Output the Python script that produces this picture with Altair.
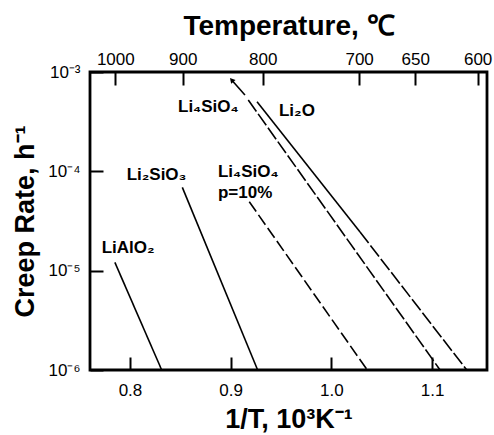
import altair as alt
import pandas as pd

# ---- data ----
liaio2_x = [0.785, 0.8315]
liaio2_y = [1.21e-5, 1e-6]
li2sio3_x = [0.852, 0.9268]
li2sio3_y = [6.9e-5, 1e-6]
li4sio4_p10_x = [0.9185, 1.0357]
li4sio4_p10_y = [4.94e-5, 1e-6]
li4sio4_x = [0.9175, 1.108]
li4sio4_y = [5.22e-4, 1e-6]
li2o_solid_x = [0.9262, 1.0285]
li2o_solid_y = [5.02e-4, 2.45e-5]
li2o_dash_x = [1.0285, 1.1345]
li2o_dash_y = [2.45e-5, 1e-6]
arrow_x = [0.9142, 0.901]
arrow_y = [5.87e-4, 8.31e-4]

label_text = ["Li₄SiO₄", "Li₂O", "Li₂SiO₃", "Li₄SiO₄", "p=10%", "LiAlO₂"]
label_x = [0.8477, 0.948, 0.7967, 0.8874, 0.8874, 0.7719]
label_y = [4.48e-4, 4.07e-4, 9.18e-5, 9.9e-5, 6.05e-5, 1.69e-5]

x_ticks = [0.8, 0.9, 1.0, 1.1]
y_ticks = [1e-3, 1e-4, 1e-5, 1e-6]
temps_c = [1000, 900, 800, 700, 650, 600]
temp_pos = [1000.0 / (t + 273.15) for t in temps_c]

W, H = 397, 298
FONT = "Liberation Sans"
X0, X1 = 0.7603, 1.1546
Y0, Y1 = 1e-6, 1e-3
TL = 13  # inward tick length in px

xs = alt.Scale(domain=[X0, X1], nice=False, zero=False)
ys = alt.Scale(type="log", domain=[Y0, Y1], nice=False)


def frame(series):
    rows = []
    for name, xv, yv in series:
        for i, (a, b) in enumerate(zip(xv, yv)):
            rows.append({"series": name, "x": a, "y": b, "o": i})
    return pd.DataFrame(rows)


solid_df = frame([("LiAlO2", liaio2_x, liaio2_y), ("Li2SiO3", li2sio3_x, li2sio3_y),
                  ("Li2O_s", li2o_solid_x, li2o_solid_y), ("arrow", arrow_x, arrow_y)])
dash_df = frame([("Li4SiO4", li4sio4_x, li4sio4_y), ("Li2O_d", li2o_dash_x, li2o_dash_y)])
p10_df = frame([("Li4SiO4_p10", li4sio4_p10_x, li4sio4_p10_y)])
head_df = pd.DataFrame({"x": arrow_x[-1:], "y": arrow_y[-1:]})
lab_df = pd.DataFrame({"t": label_text, "x": label_x, "y": label_y})
top_df = pd.DataFrame({"x": temp_pos, "y": [Y1] * len(temp_pos)})

# axes pulled inside the frame by TL, with ticks of length TL pointing back out,
# so the ticks appear on the inside of the frame and labels stay outside
tick_style = dict(ticks=True, tickSize=TL, tickWidth=2, tickColor="black", offset=-TL,
                  domain=False, grid=False, labelColor="black", titleColor="black",
                  zindex=2)

x_axis = alt.Axis(orient="bottom", values=x_ticks, format=".1f", labelFontSize=17,
                  labelPadding=12, title="1/T, 10³K⁻¹", titleFontSize=27,
                  titleFontWeight="bold", titlePadding=8, **tick_style)
y_axis = alt.Axis(values=y_ticks,
                  labelExpr="datum.value > 5e-4 ? '10⁻³' : datum.value > 5e-5 ? '10⁻⁴' : datum.value > 5e-6 ? '10⁻⁵' : '10⁻⁶'",
                  labelFontSize=17, labelPadding=10,
                  title="Creep Rate, h⁻¹", titleFontSize=27, titleFontWeight="bold",
                  titlePadding=8, **tick_style)
top_axis = alt.Axis(orient="top", values=temp_pos,
                    labelExpr="format(1000/datum.value - 273.15, '.0f')",
                    labelFontSize=17, labelPadding=4,
                    title="Temperature, ℃", titleFontSize=28, titleFontWeight="bold",
                    titlePadding=10, **tick_style)

solid = alt.Chart(solid_df).mark_line(color="black", strokeWidth=1.6).encode(
    x=alt.X("x:Q", scale=xs, axis=x_axis),
    y=alt.Y("y:Q", scale=ys, axis=y_axis),
    detail="series:N", order="o:Q")
top = alt.Chart(top_df).mark_point(opacity=0, size=1).encode(
    x=alt.X("x:Q", scale=xs, axis=top_axis),
    y=alt.Y("y:Q", scale=ys, axis=None))
dash = alt.Chart(dash_df).mark_line(color="black", strokeWidth=1.6, strokeDash=[14, 3]).encode(
    x=alt.X("x:Q", scale=xs, axis=None), y=alt.Y("y:Q", scale=ys, axis=None),
    detail="series:N", order="o:Q")
p10 = alt.Chart(p10_df).mark_line(color="black", strokeWidth=1.6, strokeDash=[12, 4]).encode(
    x=alt.X("x:Q", scale=xs, axis=None), y=alt.Y("y:Q", scale=ys, axis=None),
    detail="series:N", order="o:Q")
head = alt.Chart(head_df).mark_point(shape="triangle-up", filled=True, color="black",
                                     size=35, angle=318, opacity=1).encode(
    x=alt.X("x:Q", scale=xs, axis=None), y=alt.Y("y:Q", scale=ys, axis=None))
labels = alt.Chart(lab_df).mark_text(align="left", baseline="middle", font=FONT,
                                     fontSize=17, fontWeight="bold", color="black").encode(
    x=alt.X("x:Q", scale=xs, axis=None), y=alt.Y("y:Q", scale=ys, axis=None), text="t:N")

chart = alt.layer(solid, top, dash, p10, head, labels).resolve_axis(
    x="independent", y="independent"
).properties(
    width=W, height=H,
    autosize=alt.AutoSizeParams(type="none"),
    padding={"left": 90, "top": 72, "right": 7, "bottom": 65},
    background="white",
).configure_view(stroke="black", strokeWidth=2.8).configure_axis(
    labelFont=FONT, titleFont=FONT
)

chart.save("out.html", embed_options={"renderer": "svg", "actions": False})
